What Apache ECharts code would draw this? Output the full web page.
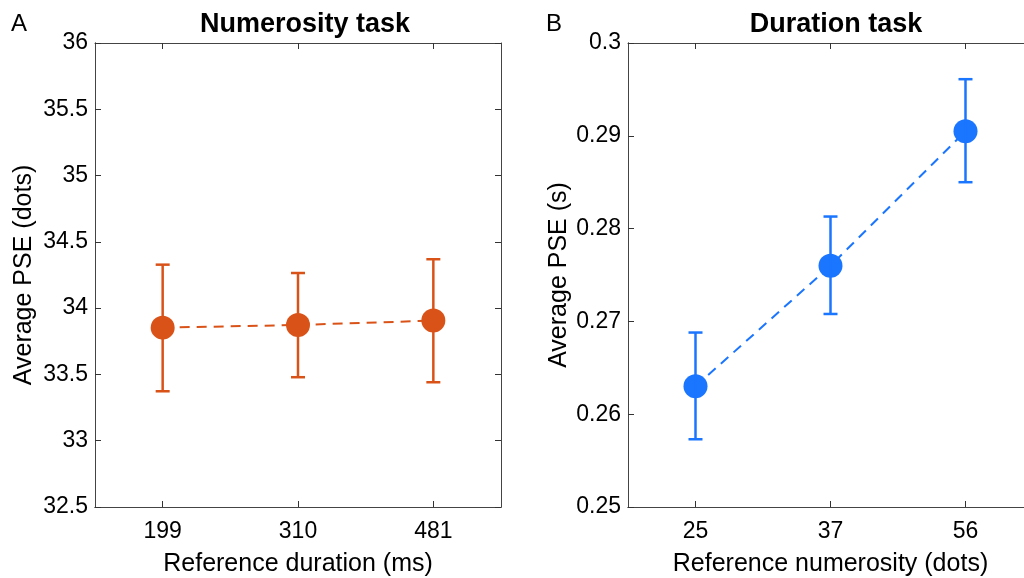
<!DOCTYPE html>
<html>
<head>
<meta charset="utf-8">
<script src="https://cdn.jsdelivr.net/npm/echarts@6/dist/echarts.min.js"></script>
<style>html,body{margin:0;padding:0;background:#fff}#c{width:1024px;height:578px}</style>
</head>
<body>
<div id="c"></div>
<script>
const catsA = ['199', '310', '481'];
const meanA = [33.853, 33.873, 33.906];
const lowA = [33.373, 33.479, 33.441];
const highA = [34.328, 34.265, 34.369];

const catsB = ['25', '37', '56'];
const meanB = [0.2630, 0.2760, 0.2905];
const lowB = [0.2573, 0.2708, 0.2850];
const highB = [0.2688, 0.2813, 0.2961];

const orange = '#D95319';
const blue = '#1A75FF';
const font = 'Liberation Sans, Arial, sans-serif';

const chart = echarts.init(document.getElementById('c'), null, {renderer: 'canvas'});

function errBar(xIdx, yIdx, low, high, color) {
  return {
    type: 'custom', xAxisIndex: xIdx, yAxisIndex: yIdx, z: 3,
    data: low.map((l, i) => [i, l, high[i]]),
    renderItem: function (params, api) {
      const p1 = api.coord([api.value(0), api.value(1)]);
      const p2 = api.coord([api.value(0), api.value(2)]);
      const w = 7;
      const st = {stroke: color, lineWidth: 2.5};
      return {type: 'group', children: [
        {type: 'line', shape: {x1: p1[0], y1: p1[1], x2: p2[0], y2: p2[1]}, style: st},
        {type: 'line', shape: {x1: p1[0] - w, y1: p1[1], x2: p1[0] + w, y2: p1[1]}, style: st},
        {type: 'line', shape: {x1: p2[0] - w, y1: p2[1], x2: p2[0] + w, y2: p2[1]}, style: st}
      ]};
    }
  };
}

const tick = {show: true, alignWithLabel: true, inside: true, length: 6, lineStyle: {color: '#333', width: 1}};
const aline = {show: true, onZero: false, lineStyle: {color: '#444', width: 1}};

function xAx(cats, grid, name) {
  const tickOnly = (pos) => ({
    type: 'category', gridIndex: grid, data: cats, boundaryGap: true, position: pos,
    axisLine: aline, axisTick: tick, axisLabel: {show: false}
  });
  return [{
    type: 'category', gridIndex: grid, data: cats, boundaryGap: true, position: 'bottom',
    name: name, nameLocation: 'middle', nameGap: 45,
    nameTextStyle: {fontSize: 25, color: '#000', fontFamily: font},
    axisLine: aline, axisTick: {show: false},
    axisLabel: {fontSize: 23, color: '#000', fontFamily: font, margin: 13}
  }, tickOnly('top'), tickOnly('bottom')];
}

function yAx(grid, min, max, interval, name, gap) {
  const tickOnly = (pos) => ({
    type: 'value', gridIndex: grid, min: min, max: max, interval: interval, position: pos,
    axisLine: aline, axisTick: tick, axisLabel: {show: false}, splitLine: {show: false}
  });
  return [{
    type: 'value', gridIndex: grid, min: min, max: max, interval: interval, position: 'left',
    name: name, nameLocation: 'middle', nameGap: gap,
    nameTextStyle: {fontSize: 25, color: '#000', fontFamily: font},
    axisLine: aline, axisTick: {show: false},
    axisLabel: {fontSize: 23, color: '#000', fontFamily: font, margin: 7},
    splitLine: {show: false}
  }, tickOnly('right'), tickOnly('left')];
}

const option = {
  animation: false,
  backgroundColor: '#fff',
  title: [
    {text: 'Numerosity task', left: 300, top: 6, textAlign: 'center',
     textStyle: {fontSize: 27, fontWeight: 'bold', color: '#000', fontFamily: font}},
    {text: 'Duration task', left: 831, top: 6, textAlign: 'center',
     textStyle: {fontSize: 27, fontWeight: 'bold', color: '#000', fontFamily: font}},
    {text: 'A', left: 6, top: 7, textStyle: {fontSize: 24, fontWeight: 'normal', color: '#000', fontFamily: font}},
    {text: 'B', left: 541, top: 7, textStyle: {fontSize: 24, fontWeight: 'normal', color: '#000', fontFamily: font}}
  ],
  grid: [
    {left: 95, top: 43, width: 406, height: 464, outerBoundsMode: 'none', containLabel: false},
    {left: 628, top: 43, width: 405, height: 464, outerBoundsMode: 'none', containLabel: false}
  ],
  xAxis: [].concat(xAx(catsA, 0, 'Reference duration (ms)'), xAx(catsB, 1, 'Reference numerosity (dots)')),
  yAxis: [].concat(yAx(0, 32.5, 36, 0.5, 'Average PSE (dots)', 58), yAx(1, 0.25, 0.3, 0.01, 'Average PSE (s)', 56)),
  series: [
    errBar(0, 0, lowA, highA, orange),
    {type: 'line', xAxisIndex: 0, yAxisIndex: 0, data: meanA, z: 2,
     lineStyle: {color: orange, width: 2, type: [10, 7]},
     symbol: 'circle', symbolSize: 24, itemStyle: {color: orange}},
    errBar(3, 3, lowB, highB, blue),
    {type: 'line', xAxisIndex: 3, yAxisIndex: 3, data: meanB, z: 2,
     lineStyle: {color: blue, width: 2, type: [10, 7]},
     symbol: 'circle', symbolSize: 24, itemStyle: {color: blue}}
  ]
};
chart.setOption(option);
</script>
</body>
</html>
